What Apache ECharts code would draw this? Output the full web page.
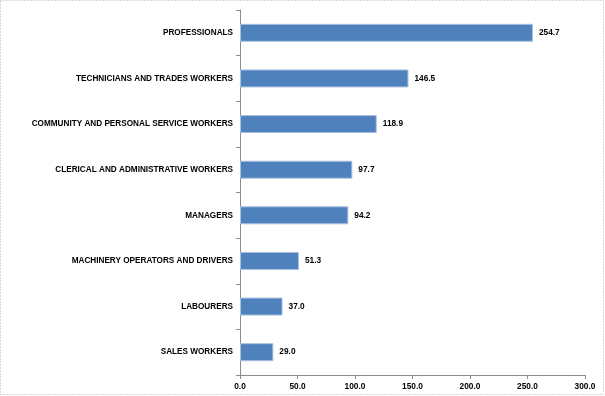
<!DOCTYPE html>
<html><head><meta charset="utf-8">
<script src="https://cdn.jsdelivr.net/npm/echarts@6/dist/echarts.min.js"></script>
<style>html,body{margin:0;padding:0;background:#fff}#c{width:605px;height:396px}</style>
</head><body><div id="c"></div>
<script>
const categories = ["SALES WORKERS","LABOURERS","MACHINERY OPERATORS AND DRIVERS","MANAGERS","CLERICAL AND ADMINISTRATIVE WORKERS","COMMUNITY AND PERSONAL SERVICE WORKERS","TECHNICIANS AND TRADES WORKERS","PROFESSIONALS"];
const values = [29.0, 37.0, 51.3, 94.2, 97.7, 118.9, 146.5, 254.7];
const chart = echarts.init(document.getElementById('c'));
const font = '"Liberation Sans", Arial, sans-serif';
chart.setOption({
  animation:false,
  graphic:[{type:'rect',shape:{x:0.5,y:0.5,width:603,height:394},style:{fill:null,stroke:'#b0b0b0',lineWidth:1,lineDash:[1,2]}}],
  grid:{left:240,right:20,top:10,bottom:21},
  xAxis:{type:'value',min:0,max:300,interval:50,
    axisLine:{show:true,lineStyle:{color:'#8c8c8c'}},
    axisTick:{show:true,length:4,lineStyle:{color:'#8c8c8c'}},
    splitLine:{show:false},
    axisLabel:{color:'#000',fontFamily:font,fontSize:8.3,fontWeight:'bold',margin:8,formatter:v=>v.toFixed(1)}},
  yAxis:{type:'category',data:categories,
    axisLine:{show:true,lineStyle:{color:'#8c8c8c'}},
    axisTick:{show:true,length:4,lineStyle:{color:'#8c8c8c'}},
    axisLabel:{color:'#000',fontFamily:font,fontSize:8.2,fontWeight:'bold',margin:7}},
  series:[{type:'bar',data:values,barWidth:18,
    itemStyle:{color:'#4F81BD',borderColor:'#a9c1e0',borderWidth:1},
    label:{show:true,position:'right',distance:6,color:'#000',fontFamily:font,fontSize:8.3,fontWeight:'bold',formatter:p=>p.value.toFixed(1)}}]
});
</script></body></html>
